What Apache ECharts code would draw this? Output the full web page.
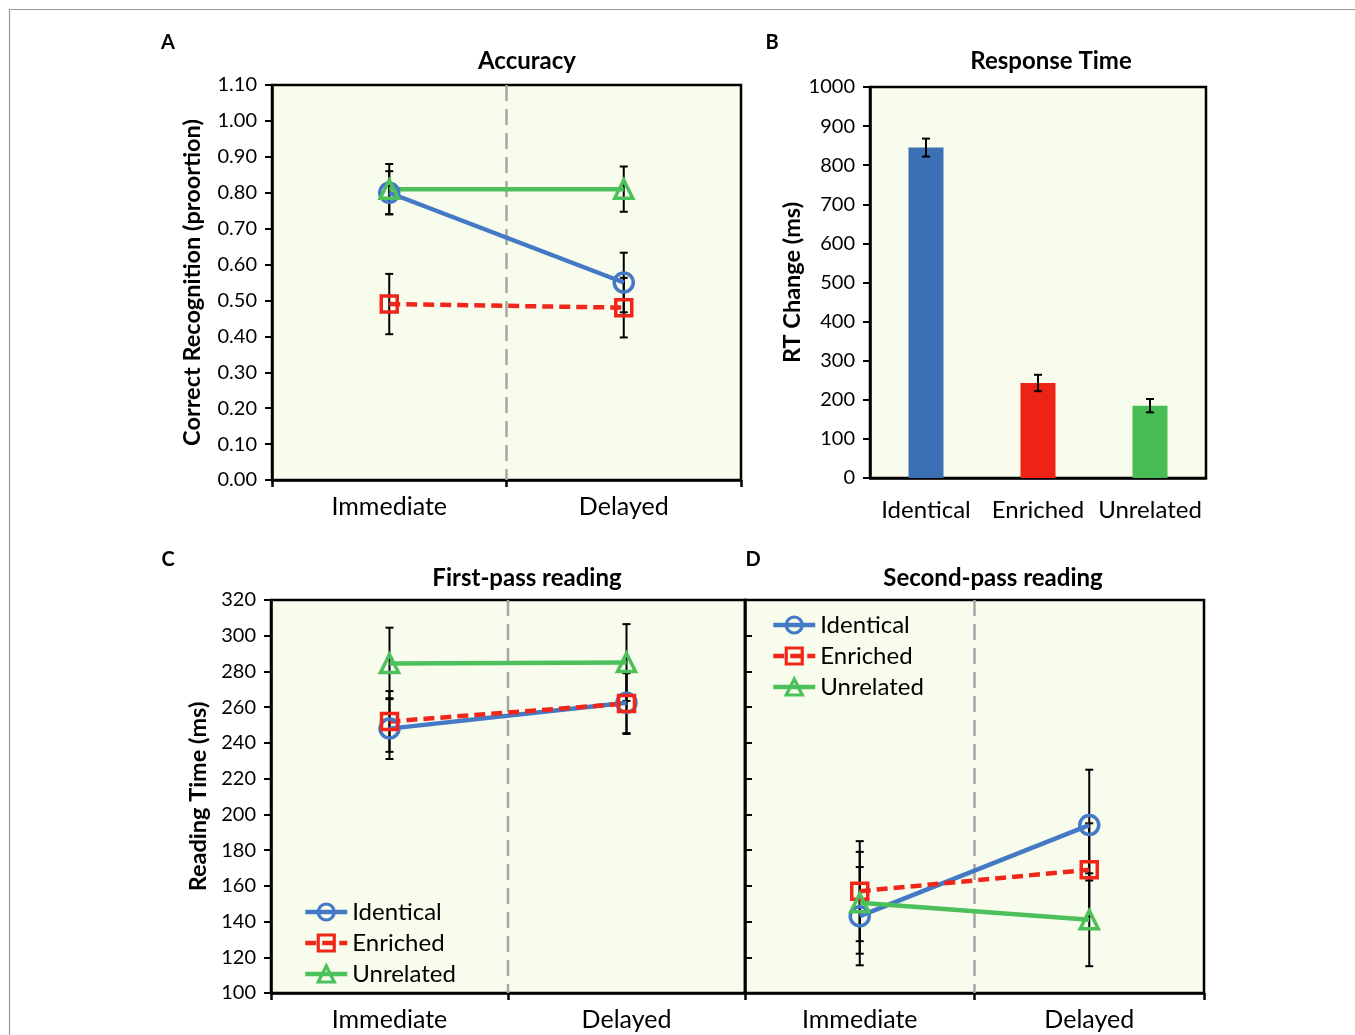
<!DOCTYPE html>
<html><head><meta charset="utf-8">
<script src="https://cdn.jsdelivr.net/npm/echarts@6/dist/echarts.min.js"></script>
<style>html,body{margin:0;padding:0;background:#fff}#c{width:1355px;height:1035px}</style>
</head><body><div id="c"></div>
<script>
// ---------- data ----------
const timeCats = ['Immediate', 'Delayed'];
const condNames = ['Identical', 'Enriched', 'Unrelated'];
// Panel A: Accuracy (proportion correct)
const accIdentical = [0.80, 0.55];
const accIdenticalErr = [0.06, 0.083];
const accEnriched = [0.49, 0.48];
const accEnrichedErr = [0.084, 0.083];
const accUnrelated = [0.81, 0.81];
const accUnrelatedErr = [0.07, 0.063];
// Panel B: RT change (ms)
const rtChange = [845, 243, 185];
const rtChangeErr = [23, 21, 17];
// Panel C: first-pass reading (ms)
const fpIdentical = [248, 262.5];
const fpIdenticalErr = [17, 17];
const fpEnriched = [252, 262];
const fpEnrichedErr = [17, 17];
const fpUnrelated = [284.5, 285];
const fpUnrelatedErr = [20, 21.5];
// Panel D: second-pass reading (ms)
const spIdentical = [143, 194];
const spIdenticalErr = [27.5, 31];
const spEnriched = [157, 169];
const spEnrichedErr = [28, 26];
const spUnrelated = [150.5, 141];
const spUnrelatedErr = [28.5, 26];

// ---------- style ----------
const FONT = 'Lato';
const BG = '#F8FCEC';
const lineColors = ['#4479C6', '#F0261A', '#4CC05A'];
const barColors = ['#3B70B5', '#EE2317', '#48BC55'];
const symbols = ['circle', 'rect', 'triangle'];
const symbolSizes = [19, 16, 18];
const AX = {color: '#000', width: 2.5};

const chart = echarts.init(document.getElementById('c'), null, {renderer: 'canvas'});

const grids = [
  {left: 272, top: 85, width: 469, height: 395},
  {left: 870, top: 87, width: 336, height: 391},
  {left: 271, top: 600, width: 474, height: 393},
  {left: 745, top: 600, width: 459, height: 393}
].map(g => Object.assign({show: true, backgroundColor: BG, borderColor: '#000', borderWidth: 2.5, containLabel: false}, g));

function catX(gi, ticks) {
  return {
    gridIndex: gi, type: 'category', data: gi === 1 ? condNames : timeCats,
    axisLine: {show: true, lineStyle: AX},
    axisTick: {show: ticks, length: 7, lineStyle: AX},
    axisLabel: {color: '#000', fontFamily: FONT, fontSize: gi === 1 ? 24 : 25, margin: gi === 1 ? 20 : 14,
      interval: 0, hideOverlap: false},
    splitLine: {show: false}
  };
}
function valY(gi, min, max, interval, opts) {
  return Object.assign({
    gridIndex: gi, type: 'value', min: min, max: max, interval: interval,
    axisLine: {show: true, lineStyle: AX},
    axisTick: {show: true, length: 7, inside: false, lineStyle: {color: '#000', width: 2}},
    axisLabel: {color: '#000', fontFamily: FONT, fontSize: 20, margin: 15, formatter: v => String(v)},
    splitLine: {show: false},
    nameLocation: 'middle', nameRotate: 90,
    nameTextStyle: {color: '#000', fontFamily: FONT, fontSize: 23.5, fontWeight: 'bold'}
  }, opts);
}

function lineSeries(gi, idx, values) {
  return {
    type: 'line', name: condNames[idx], xAxisIndex: gi, yAxisIndex: gi,
    data: values, z: 3,
    symbol: symbols[idx], symbolSize: symbolSizes[idx],
    lineStyle: {color: lineColors[idx], width: 4.5, type: idx === 1 ? [11, 6] : 'solid'},
    itemStyle: {color: 'transparent', borderColor: lineColors[idx], borderWidth: 3.5},
    emphasis: {disabled: true}, animation: false
  };
}
function errRender(params, api) {
  const x = api.value(0), lo = api.value(1), hi = api.value(2);
  const a = api.coord([x, lo]), b = api.coord([x, hi]);
  const w = 4, st = {stroke: '#000', lineWidth: 2};
  return {type: 'group', children: [
    {type: 'line', shape: {x1: a[0], y1: a[1], x2: b[0], y2: b[1]}, style: st},
    {type: 'line', shape: {x1: a[0] - w, y1: a[1], x2: a[0] + w, y2: a[1]}, style: st},
    {type: 'line', shape: {x1: b[0] - w, y1: b[1], x2: b[0] + w, y2: b[1]}, style: st}
  ]};
}
function errSeries(gi, means, errs) {
  return {
    type: 'custom', xAxisIndex: gi, yAxisIndex: gi, z: 2, silent: true,
    renderItem: errRender, encode: {x: 0, y: [1, 2]},
    data: means.map((m, i) => [i, m - errs[i], m + errs[i]]), animation: false
  };
}
function dividerSeries(gi) {
  return {
    type: 'custom', xAxisIndex: gi, yAxisIndex: gi, z: 1, silent: true, animation: false,
    encode: {x: 0, y: 1},
    data: [[0, 0]],
    renderItem: function (params, api) {
      const cs = params.coordSys;
      const x0 = api.coord([0, api.value(1)])[0];
      const x1 = api.coord([1, api.value(1)])[0];
      const xm = (x0 + x1) / 2;
      return {type: 'line', shape: {x1: xm, y1: cs.y, x2: xm, y2: cs.y + cs.height},
        style: {stroke: '#A6A6A6', lineWidth: 2.5, lineDash: [16, 8]}};
    }
  };
}

function titleItem(text, x, y, size) {
  return {text: text, left: x, top: y, textAlign: 'center', textVerticalAlign: 'middle', padding: 0,
    textStyle: {fontFamily: FONT, fontSize: size, fontWeight: 'bold', color: '#000'}};
}

const legendBase = {
  orient: 'vertical', data: condNames, itemWidth: 42, itemHeight: 20, itemGap: 7, itemTextGap: 4,
  selectedMode: false, padding: 0,
  textStyle: {fontFamily: FONT, fontSize: 24, color: '#000'},
  lineStyle: {width: 4.5}, itemStyle: {borderWidth: 3.2}
};

const option = {
  animation: false,
  backgroundColor: '#fff',
  title: [
    titleItem('A', 168, 43, 20), titleItem('B', 772, 43, 20),
    titleItem('C', 168, 560, 20), titleItem('D', 753, 560, 20),
    titleItem('Accuracy', 527, 61, 24), titleItem('Response Time', 1051, 61, 24),
    titleItem('First-pass reading', 527, 578, 24), titleItem('Second-pass reading', 993, 578, 24)
  ],
  legend: [
    Object.assign({left: 303, top: 900}, legendBase),
    Object.assign({left: 771, top: 613}, legendBase)
  ],
  grid: grids,
  xAxis: [catX(0, true), catX(1, false), catX(2, true), catX(3, true)],
  yAxis: [
    valY(0, 0, 1.1, 0.1, {name: 'Correct Recognition (proortion)', nameGap: 68,
      axisLabel: {color: '#000', fontFamily: FONT, fontSize: 20, margin: 15, formatter: v => v.toFixed(2)}}),
    valY(1, 0, 1000, 100, {name: 'RT Change (ms)', nameGap: 64}),
    valY(2, 100, 320, 20, {name: 'Reading Time (ms)', nameGap: 61}),
    valY(3, 100, 320, 20, {axisLabel: {show: false},
      axisTick: {show: true, inside: true, length: 7, lineStyle: {color: '#000', width: 2}}})
  ],
  graphic: [
    {type: 'rect', shape: {x: 9.5, y: 9.5, width: 1400, height: 1100}, style: {fill: 'none', stroke: '#999', lineWidth: 1.2}, silent: true, z: -10}
  ],
  series: [
    dividerSeries(0), dividerSeries(2), dividerSeries(3),
    errSeries(0, accIdentical, accIdenticalErr), errSeries(0, accEnriched, accEnrichedErr), errSeries(0, accUnrelated, accUnrelatedErr),
    lineSeries(0, 0, accIdentical), lineSeries(0, 1, accEnriched), lineSeries(0, 2, accUnrelated),
    {type: 'bar', xAxisIndex: 1, yAxisIndex: 1, barWidth: 35, z: 2,
      data: rtChange.map((v, i) => ({value: v, itemStyle: {color: barColors[i]}}))},
    Object.assign(errSeries(1, rtChange, rtChangeErr), {z: 3}),
    errSeries(2, fpIdentical, fpIdenticalErr), errSeries(2, fpEnriched, fpEnrichedErr), errSeries(2, fpUnrelated, fpUnrelatedErr),
    lineSeries(2, 0, fpIdentical), lineSeries(2, 1, fpEnriched), lineSeries(2, 2, fpUnrelated),
    errSeries(3, spIdentical, spIdenticalErr), errSeries(3, spEnriched, spEnrichedErr), errSeries(3, spUnrelated, spUnrelatedErr),
    lineSeries(3, 0, spIdentical), lineSeries(3, 1, spEnriched), lineSeries(3, 2, spUnrelated)
  ]
};
chart.setOption(option);
</script></body></html>
